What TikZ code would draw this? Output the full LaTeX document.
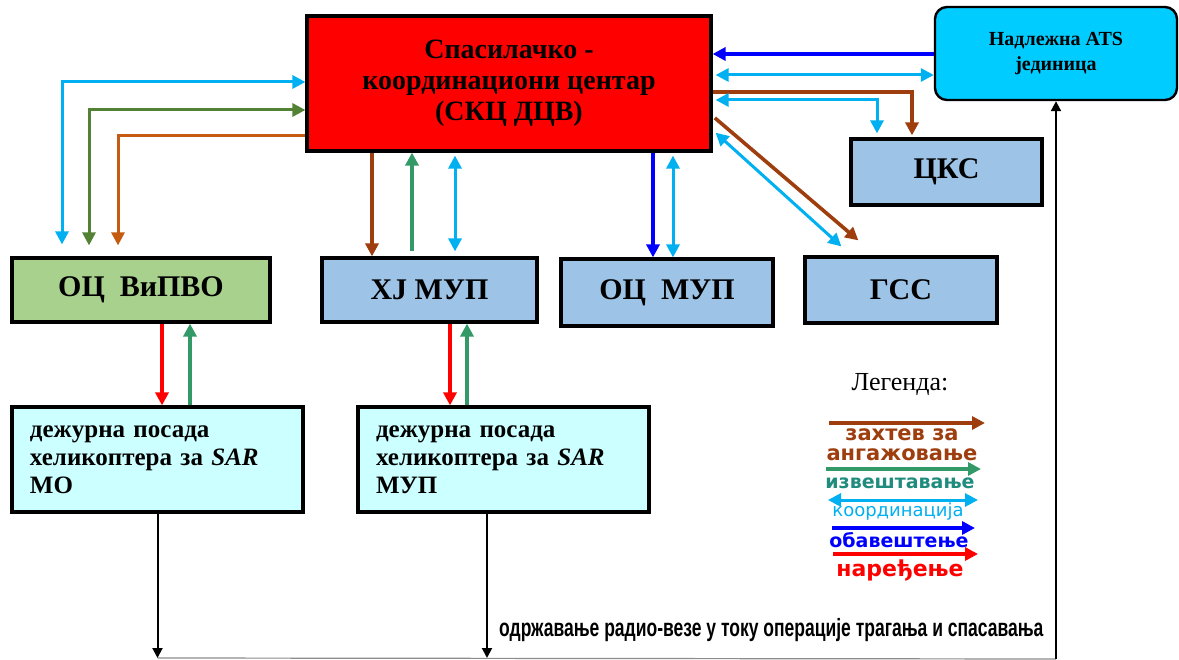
\documentclass[tikz,border=0pt]{standalone}
\usepackage{fontspec}
\setmainfont{Liberation Serif}
\newfontfamily\legendfont{DejaVu Sans}
\newfontfamily\narrowfont[FakeStretch=0.7]{Liberation Sans}
\usepackage{tikz}
\usetikzlibrary{arrows.meta,positioning,calc}

\definecolor{skcred}{RGB}{255,0,0}
\definecolor{atscyan}{RGB}{0,204,255}
\definecolor{boxblue}{RGB}{157,195,230}
\definecolor{boxgreen}{RGB}{169,209,142}
\definecolor{helicyan}{RGB}{204,255,255}
\definecolor{brownar}{RGB}{158,62,14}
\definecolor{orangear}{RGB}{197,90,17}
\definecolor{olivear}{RGB}{84,130,53}
\definecolor{greenar}{RGB}{51,153,102}
\definecolor{cyanar}{RGB}{0,176,240}
\definecolor{bluear}{RGB}{0,0,255}
\definecolor{redar}{RGB}{255,0,0}
\definecolor{tealtxt}{RGB}{31,140,125}

\begin{document}
\begin{tikzpicture}[x=1pt,y=-1pt,
  >={Triangle[length=13pt,width=13pt]}]

  % Define box and arrow styles
  \tikzset{box/.style={draw, rectangle, line width=3.2pt, inner sep=0pt, font=\fontsize{30}{34}\selectfont\bfseries},
    helibox/.style={box, fill=helicyan, text width=255pt, inner xsep=18pt, minimum height=105pt, align=left, font=\fontsize{25}{28}\selectfont\bfseries},
    zahtev/.style={draw=brownar, line width=3.6pt},
    izvestaj/.style={draw=greenar, line width=3.6pt},
    koord/.style={draw=cyanar, line width=3pt},
    obavest/.style={draw=bluear, line width=3.6pt},
    naredba/.style={draw=redar, line width=3.6pt},
    radio/.style={draw=black, line width=2pt, >={Triangle[length=10pt,width=10pt]}},
    legtext/.style={font=\legendfont\bfseries\fontsize{21}{20}\selectfont, align=center, inner sep=0pt}}

  \useasboundingbox (0,0) rectangle (1179,660);

  % Nodes
  \node[box, fill=skcred, minimum width=404pt, minimum height=135pt, align=center,
    font=\fontsize{28}{31}\selectfont\bfseries] (skc) at (509,83.5) {Спасилачко -\\координациони центар\\(СКЦ ДЦВ)};
  \node[box, rounded corners=12pt, line width=2.4pt, fill=atscyan, minimum width=242pt, minimum height=93pt,
    align=center, font=\fontsize{20}{25}\selectfont\bfseries] (ats) at (1056,53.5) {Надлежна ATS\\јединица};
  \node[box, fill=boxblue, minimum width=191pt, minimum height=66pt] (cks) at (946.5,172) {ЦКС};
  \node[box, fill=boxblue, minimum width=192pt, minimum height=66pt] (gss) at (901,290) {ГСС};
  \node[box, fill=boxblue, minimum width=212pt, minimum height=67pt] (ocmup) at (667,292.5) {ОЦ\ \ МУП};
  \node[box, fill=boxblue, minimum width=215pt, minimum height=64pt] (hjmup) at (429.5,290) {ХЈ МУП};
  \node[box, fill=boxgreen, minimum width=258pt, minimum height=64pt] (ocvipvo) at (141,290) {ОЦ\ \ ВиПВО};
  \node[helibox] (heli1) at (157.5,459.5) {дежурна посада\\хеликоптера за \textit{SAR}\\МО};
  \node[helibox] (heli2) at (503.5,459.5) {дежурна посада\\хеликоптера за \textit{SAR}\\МУП};

  % SKC and OC ViPVO
  \draw[koord, <->, shorten >=12pt] (skc.west |- 0,82) -| (ocvipvo.north -| 62,0);
  \draw[draw=olivear, line width=3pt, <->, shorten >=11pt] (skc.west |- 0,110) -| (ocvipvo.north -| 89,0);
  \draw[draw=orangear, line width=3pt, ->, shorten >=11pt] (skc.west |- 0,136) -| (ocvipvo.north -| 118,0);

  % SKC and the units below
  \draw[zahtev, ->] (skc.south -| 372,0) -- (hjmup.north -| 372,0);
  \draw[izvestaj, ->, shorten <=5pt] (hjmup.north -| 412,0) -- (skc.south -| 412,0);
  \draw[koord, <->, shorten <=3pt, shorten >=5pt] (skc.south -| 455,0) -- (hjmup.north -| 455,0);
  \draw[obavest, ->] (skc.south -| 653,0) -- (ocmup.north -| 653,0);
  \draw[koord, <->, shorten <=3pt] (skc.south -| 673,0) -- (ocmup.north -| 673,0);

  % SKC and the units on the right
  \draw[obavest, ->] (ats.west |- 0,54) -- (skc.east |- 0,54);
  \draw[koord, <->, shorten <=3pt] (skc.east |- 0,75) -- (ats.west |- 0,75);
  \draw[zahtev, ->, shorten >=2pt] (skc.east |- 0,92) -| (cks.north -| 912,0);
  \draw[koord, <->, shorten <=3pt, shorten >=4pt] (skc.east |- 0,100) -| (cks.north -| 877,0);
  \draw[zahtev, ->, shorten <=3pt] (skc.east |- 0,116) -- ($(gss.north west)+(55,-15)$);
  \draw[koord, <->, shorten <=4pt] (skc.east |- 0,130) -- ($(gss.north west)+(38,-9)$);

  % Crews
  \draw[naredba, ->] (ocvipvo.south -| 162,0) -- (heli1.north -| 162,0);
  \draw[draw=greenar, line width=3.6pt, ->] (heli1.north -| 190,0) -- (ocvipvo.south -| 190,0);
  \draw[naredba, ->] (hjmup.south -| 450,0) -- (heli2.north -| 450,0);
  \draw[izvestaj, ->] (heli2.north -| 467,0) -- (hjmup.south -| 467,0);

  % Radio link
  \coordinate (r1) at (heli1.south |- 0,658);
  \coordinate (r2) at (487,658);
  \coordinate (r3) at (ats.south |- 0,659);
  \draw[draw=black!45, line width=1.2pt] (r1) -- (r3);
  \draw[radio, ->] (heli1.south) -- (r1);
  \draw[radio, ->] (heli2.south -| r2) -- (r2);
  \draw[radio, ->] (r3) -- (ats.south);
  \node[anchor=west, inner sep=0pt, font=\narrowfont\bfseries\fontsize{25}{28}\selectfont] (radiotxt) at (499,630)
    {одржавање радио-везе у току операције трагања и спасавања};

  % Legend
  \node[font=\fontsize{26}{30}\selectfont] (leg) at (900,385) {Легенда:};
  \coordinate (z1) at (829,423); \coordinate (z2) at (985,423);
  \coordinate (i1) at (826,469); \coordinate (i2) at (981,469);
  \coordinate (k1) at (828,500); \coordinate (k2) at (978,500);
  \coordinate (o1) at (832,528); \coordinate (o2) at (975,528);
  \coordinate (n1) at (833,554); \coordinate (n2) at (978,554);
  \draw[zahtev, ->] (z1) -- (z2);
  \draw[izvestaj, ->] (i1) -- (i2);
  \draw[koord, <->] (k1) -- (k2);
  \draw[obavest, ->] (o1) -- (o2);
  \draw[naredba, ->] (n1) -- (n2);
  \node[legtext, text=brownar] (zt) at (902,445) {захтев за\\ангажовање};
  \node[legtext, text=tealtxt, font=\legendfont\bfseries\fontsize{19}{18}\selectfont] (it) at (900,483) {извештавање};
  \node[legtext, text=cyanar, font=\legendfont\fontsize{18}{18}\selectfont] (kt) at (898,512) {координација};
  \node[legtext, text=bluear, font=\legendfont\bfseries\fontsize{19}{18}\selectfont] (ot) at (899,540) {обавештење};
  \node[legtext, text=redar, font=\legendfont\bfseries\fontsize{22}{18}\selectfont] (nt) at (900,571) {наређење};

\end{tikzpicture}
\end{document}
